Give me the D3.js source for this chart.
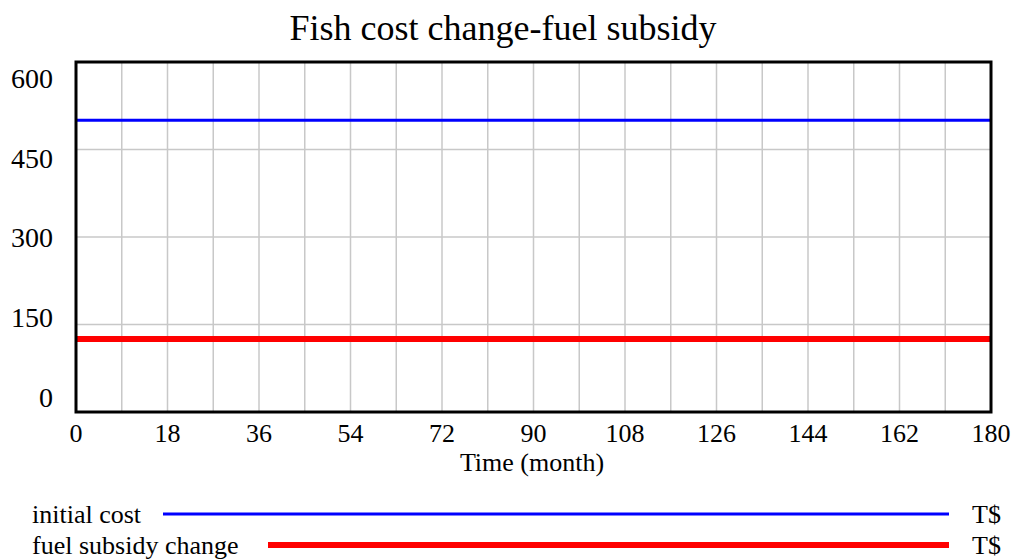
<!DOCTYPE html>
<html>
<head>
<meta charset="utf-8">
<script src="https://cdn.jsdelivr.net/npm/d3@7"></script>
<style>
  html, body { margin: 0; padding: 0; background: #fff; }
  svg { display: block; font-family: "Liberation Serif", "Times New Roman", serif; }
</style>
</head>
<body>
<svg id="chart" width="1019" height="560"></svg>
<script>
// Time axis (months) and tick labels
const timeTicks = [0, 18, 36, 54, 72, 90, 108, 126, 144, 162, 180];
const valueTicks = [0, 150, 300, 450, 600];

// Series: constant costs over the simulation (T$)
const months = [0, 180];
const initialCost = [500, 500];
const fuelSubsidyChange = [125, 125];

const seriesNames = ["initial cost", "fuel subsidy change"];
const seriesUnits = ["T$", "T$"];
const seriesColors = ["#0000ff", "#ff0000"];
const seriesWidths = [3, 6];

const svg = d3.select("#chart");
const plot = { left: 76, right: 991, top: 62, bottom: 412 };

const x = d3.scaleLinear().domain([0, 180]).range([plot.left, plot.right]);
const y = d3.scaleLinear().domain([0, 600]).range([plot.bottom, plot.top]);
// value labels are spread slightly inside the frame
const yLabel = d3.scaleLinear().domain([0, 600]).range([397, 78]);

// Title
svg.append("text")
  .attr("x", 503).attr("y", 40)
  .attr("text-anchor", "middle")
  .attr("font-size", 36)
  .text("Fish cost change-fuel subsidy");

// Grid
const grid = svg.append("g").attr("stroke", "#c8c8c8").attr("stroke-width", 1.5);
grid.selectAll("line.v").data(d3.range(9, 180, 9)).join("line")
  .attr("x1", d => x(d)).attr("x2", d => x(d))
  .attr("y1", plot.top).attr("y2", plot.bottom);
grid.selectAll("line.h").data(valueTicks.slice(1, -1)).join("line")
  .attr("x1", plot.left).attr("x2", plot.right)
  .attr("y1", d => y(d)).attr("y2", d => y(d));

// Series lines
const series = [initialCost, fuelSubsidyChange];
const line = d3.line().x((d, i) => x(months[i])).y(d => y(d));
series.forEach((vals, k) => {
  svg.append("path")
    .datum(vals)
    .attr("fill", "none")
    .attr("stroke", seriesColors[k])
    .attr("stroke-width", seriesWidths[k])
    .attr("d", line);
});

// Frame
svg.append("rect")
  .attr("x", plot.left).attr("y", plot.top)
  .attr("width", plot.right - plot.left).attr("height", plot.bottom - plot.top)
  .attr("fill", "none").attr("stroke", "#000").attr("stroke-width", 3);

// Value labels
svg.append("g").selectAll("text").data(valueTicks).join("text")
  .attr("x", 53).attr("y", d => yLabel(d))
  .attr("dy", "0.35em")
  .attr("text-anchor", "end")
  .attr("font-size", 28)
  .text(d => d);

// Time labels
svg.append("g").selectAll("text").data(timeTicks).join("text")
  .attr("x", d => x(d)).attr("y", 442)
  .attr("text-anchor", "middle")
  .attr("font-size", 26)
  .text(d => d);

svg.append("text")
  .attr("x", 532).attr("y", 471)
  .attr("text-anchor", "middle")
  .attr("font-size", 26)
  .text("Time (month)");

// Legend
const legendY = [514, 545];
const legendStart = [163, 268];
seriesNames.forEach((name, k) => {
  svg.append("text")
    .attr("x", 32).attr("y", legendY[k] + 9)
    .attr("font-size", 26)
    .text(name);
  svg.append("line")
    .attr("x1", legendStart[k]).attr("x2", 949)
    .attr("y1", legendY[k]).attr("y2", legendY[k])
    .attr("stroke", seriesColors[k])
    .attr("stroke-width", seriesWidths[k]);
  svg.append("text")
    .attr("x", 972).attr("y", legendY[k] + 9)
    .attr("font-size", 26)
    .text(seriesUnits[k]);
});
</script>
</body>
</html>
